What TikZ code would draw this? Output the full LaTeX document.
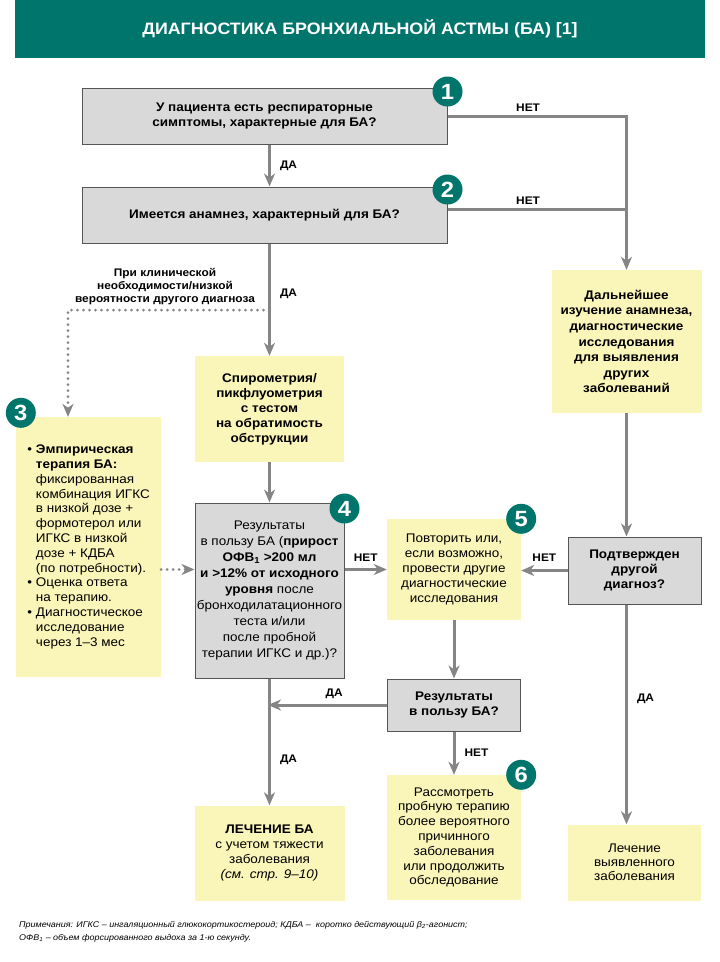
\documentclass[tikz,border=0pt]{standalone}
\usepackage{fontspec}
\setmainfont{Liberation Sans}[FakeStretch=1.08]
\usetikzlibrary{arrows.meta,positioning}
\definecolor{bagreen}{HTML}{00756C}
\definecolor{bagray}{HTML}{D9D9D9}
\definecolor{baedge}{HTML}{555555}
\definecolor{bayellow}{HTML}{FAF5B8}
\definecolor{baline}{HTML}{858585}

\begin{document}
\begin{tikzpicture}[
  x=1pt, y=-1pt,
  titlebar/.style={rectangle, fill=bagreen, text=white, minimum width=690pt, minimum height=58pt, inner sep=0pt, font=\fontsize{16.5}{18}\selectfont\bfseries},
  qbox/.style={rectangle, draw=baedge, line width=1pt, fill=bagray, align=center, inner sep=0pt, font=\fontsize{12.5}{15}\selectfont\bfseries},
  ybox/.style={rectangle, fill=bayellow, align=center, inner sep=0pt, font=\fontsize{12.5}{14.8}\selectfont},
  num/.style={circle, fill=bagreen, minimum size=30pt, inner sep=0pt, text=white, font=\fontsize{22}{22}\selectfont\bfseries},
  arrow/.style={-{Stealth[length=13pt,width=11pt,inset=4pt]}, draw=baline, line width=3pt},
  link/.style={draw=baline, line width=3pt},
  dotarrow/.style={arrow, line cap=round, dash pattern=on 0pt off 6pt},
  lbl/.style={font=\fontsize{11}{13}\selectfont\bfseries, inner sep=3pt},
  note/.style={font=\fontsize{8.3}{13}\selectfont\itshape, align=left, inner sep=0pt}
]
\useasboundingbox (0,0) rectangle (720,962);

%% Title
\node[titlebar] (title) at (360,29) {ДИАГНОСТИКА БРОНХИАЛЬНОЙ АСТМЫ (БА) [1]};

%% Questions
\node[qbox, minimum width=365pt, minimum height=56pt] (q1) at (264.5,116) {У пациента есть респираторные\\симптомы, характерные для БА?};
\node[qbox, minimum width=365pt, minimum height=56pt] (q2) at (264.5,215) {Имеется анамнез, характерный для БА?};

%% Left and middle column
\node[ybox, font=\fontsize{12.5}{15}\selectfont\bfseries, minimum width=149pt, minimum height=106pt] (spiro) at (269.5,409) {Спирометрия/\\пикфлуометрия\\с тестом\\на обратимость\\обструкции};
\node[qbox, font=\fontsize{12.5}{16}\selectfont, minimum width=149pt, minimum height=175pt] (res) at (269.5,590.5) {Результаты\\в пользу БА (\textbf{прирост}\\\textbf{ОФВ\textsubscript{1} >200 мл}\\\textbf{и >12\% от исходного}\\\textbf{уровня} после\\бронходилатационного\\теста и/или\\после пробной\\терапии ИГКС и др.)?};
\node[ybox, minimum width=145pt, minimum height=260pt] (empir) at (88.5,547) {%
  \begin{tabular}{@{}l@{\hspace{4pt}}l@{}}
  \textbullet & \textbf{Эмпирическая}\\
   & \textbf{терапия БА:}\\
   & фиксированная\\
   & комбинация ИГКС\\
   & в низкой дозе +\\
   & формотерол или\\
   & ИГКС в низкой\\
   & дозе + КДБА\\
   & (по потребности).\\
  \textbullet & Оценка ответа\\
   & на терапию.\\
  \textbullet & Диагностическое\\
   & исследование\\
   & через 1–3 мес
  \end{tabular}};
\node[ybox, minimum width=150pt, minimum height=95pt] (treat) at (269.5,853) {\textbf{ЛЕЧЕНИЕ БА}\\с учетом тяжести\\заболевания\\\textit{(см. стр. 9–10)}};

%% Second column
\node[ybox, minimum width=134pt, minimum height=101pt] (repeat) at (454,569.5) {Повторить или,\\если возможно,\\провести другие\\диагностические\\исследования};
\node[qbox, minimum width=133pt, minimum height=52pt] (res2) at (454,705) {Результаты\\в пользу БА?};
\node[ybox, minimum width=134pt, minimum height=125pt] (trial) at (454,837.5) {Рассмотреть\\пробную терапию\\более вероятного\\причинного\\заболевания\\или продолжить\\обследование};

%% Right column
\node[ybox, font=\fontsize{12.5}{15.6}\selectfont\bfseries, minimum width=150pt, minimum height=143pt] (further) at (626.5,341.5) {Дальнейшее\\изучение анамнеза,\\диагностические\\исследования\\для выявления\\других\\заболеваний};
\node[qbox, minimum width=133pt, minimum height=67pt] (confirm) at (634.5,570.5) {Подтвержден\\другой\\диагноз?};
\node[ybox, font=\fontsize{12.5}{14}\selectfont, minimum width=133pt, minimum height=76pt] (other) at (634.5,862.5) {Лечение\\выявленного\\заболевания};

%% Footnote
\node[note, anchor=north west] (footnote) at (19,921) {Примечания: ИГКС – ингаляционный глюкокортикостероид; КДБА –\ \ коротко действующий β\textsubscript{2}-агонист;\\ОФВ\textsubscript{1} – объем форсированного выдоха за 1-ю секунду.};

%% Arrows: questions
\draw[arrow] (q1.south -| spiro.north) -- node[lbl, right=6pt]{ДА} (q2.north -| spiro.north);
\draw[arrow] (q1.east) -- node[lbl, above, pos=0.45]{НЕТ} (q1.east -| further.north) -- (further.north);
\draw[link] ([yshift=6pt]q2.east) -- node[lbl, above, pos=0.45]{НЕТ} ([yshift=6pt]q2.east -| further.north);
\draw[arrow] (q2.south -| spiro.north) -- node[lbl, right=6pt, pos=0.45]{ДА} (spiro.north);

%% Dotted branch
\coordinate (fork) at (269.5,310);
\coordinate (bend) at (68,310);
\draw[dotarrow] (fork) -- (bend) -- (bend |- empir.north);
\node[lbl, align=center, above=2pt of bend, xshift=97pt] (cond) {При клинической\\необходимости/низкой\\вероятности другого диагноза};

%% Arrows: middle
\draw[arrow] (spiro) -- (res);
\draw[dotarrow] (empir.east |- repeat.west) -- (res.west |- repeat.west);
\draw[arrow] (res.east |- repeat.west) -- node[lbl, above=4pt]{НЕТ} (repeat.west);
\draw[arrow] (res) -- node[lbl, right=6pt, pos=0.64]{ДА} (treat);
\draw[arrow] (repeat) -- (res2);
\draw[arrow, shorten >=-1.5pt] (res2.west) -- node[lbl, above=2pt, pos=0.45]{ДА} (res2.west -| res.south);
\draw[arrow] (res2) -- node[lbl, right=6pt]{НЕТ} (trial);

%% Arrows: right
\draw[arrow] (further.south) -- (further.south |- confirm.north);
\draw[arrow] (confirm.west) -- node[lbl, above=5pt]{НЕТ} (confirm.west -| repeat.east);
\draw[arrow] (confirm.south -| further.south) -- node[lbl, right=6pt, pos=0.43]{ДА} (other.north -| further.south);

%% Badges
\node[num, yshift=-4pt] (n1) at (q1.north east) {1};
\node[num, yshift=-3pt] (n2) at (q2.north east) {2};
\node[num, xshift=5pt, yshift=4pt] (n3) at (empir.north west) {3};
\node[num, yshift=-6pt] (n4) at (res.north east) {4};
\node[num] (n5) at (repeat.north east) {5};
\node[num] (n6) at (trial.north east) {6};
\end{tikzpicture}
\end{document}
